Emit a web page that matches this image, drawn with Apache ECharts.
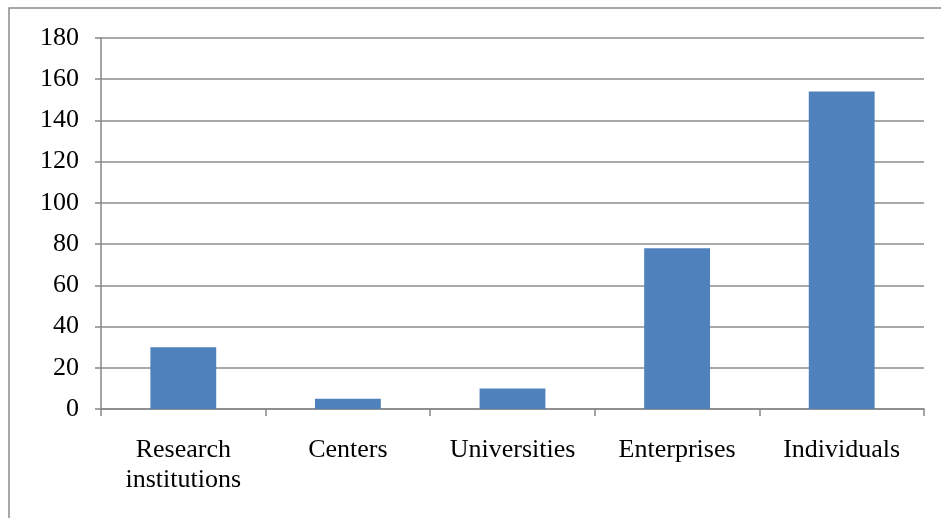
<!DOCTYPE html>
<html>
<head>
<meta charset="utf-8">
<script src="https://cdn.jsdelivr.net/npm/echarts@6/dist/echarts.min.js"></script>
<style>
html,body{margin:0;padding:0;background:#fff;}
#chart{width:941px;height:518px;}
</style>
</head>
<body>
<div id="chart"></div>
<script>
var categories = ['Research\ninstitutions', 'Centers', 'Universities', 'Enterprises', 'Individuals'];
var values = [30, 5, 10, 78, 154];
var yTicks = [0, 20, 40, 60, 80, 100, 120, 140, 160, 180];

var chart = echarts.init(document.getElementById('chart'));
var font = '"Liberation Serif", "Times New Roman", serif';
chart.setOption({
  animation: false,
  textStyle: { fontFamily: font },
  graphic: [{
    type: 'rect',
    shape: { x: 9, y: 8, width: 1000, height: 1000 },
    style: { fill: 'none', stroke: '#8a8a8a', lineWidth: 1.5 },
    z: -1
  }],
  grid: { left: 101, right: 17, top: 38, bottom: 109 },
  xAxis: {
    type: 'category',
    data: categories,
    axisLine: { lineStyle: { color: '#868686', width: 1.5 } },
    axisTick: { show: true, length: 7, lineStyle: { color: '#868686', width: 1.5 } },
    axisLabel: { color: '#000', fontSize: 26, fontFamily: font, margin: 26, lineHeight: 30, interval: 0 }
  },
  yAxis: {
    type: 'value',
    min: yTicks[0],
    max: yTicks[yTicks.length - 1],
    interval: yTicks[1] - yTicks[0],
    axisLine: { show: true, lineStyle: { color: '#868686', width: 1.5 } },
    axisTick: { show: true, length: 6, lineStyle: { color: '#868686', width: 1.5 } },
    axisLabel: { color: '#000', fontSize: 26, fontFamily: font, margin: 22 },
    splitLine: { lineStyle: { color: '#8c8c8c', width: 1.5 } }
  },
  series: [{
    type: 'bar',
    data: values,
    barWidth: '40%',
    itemStyle: { color: '#4F81BD' }
  }]
});
</script>
</body>
</html>
